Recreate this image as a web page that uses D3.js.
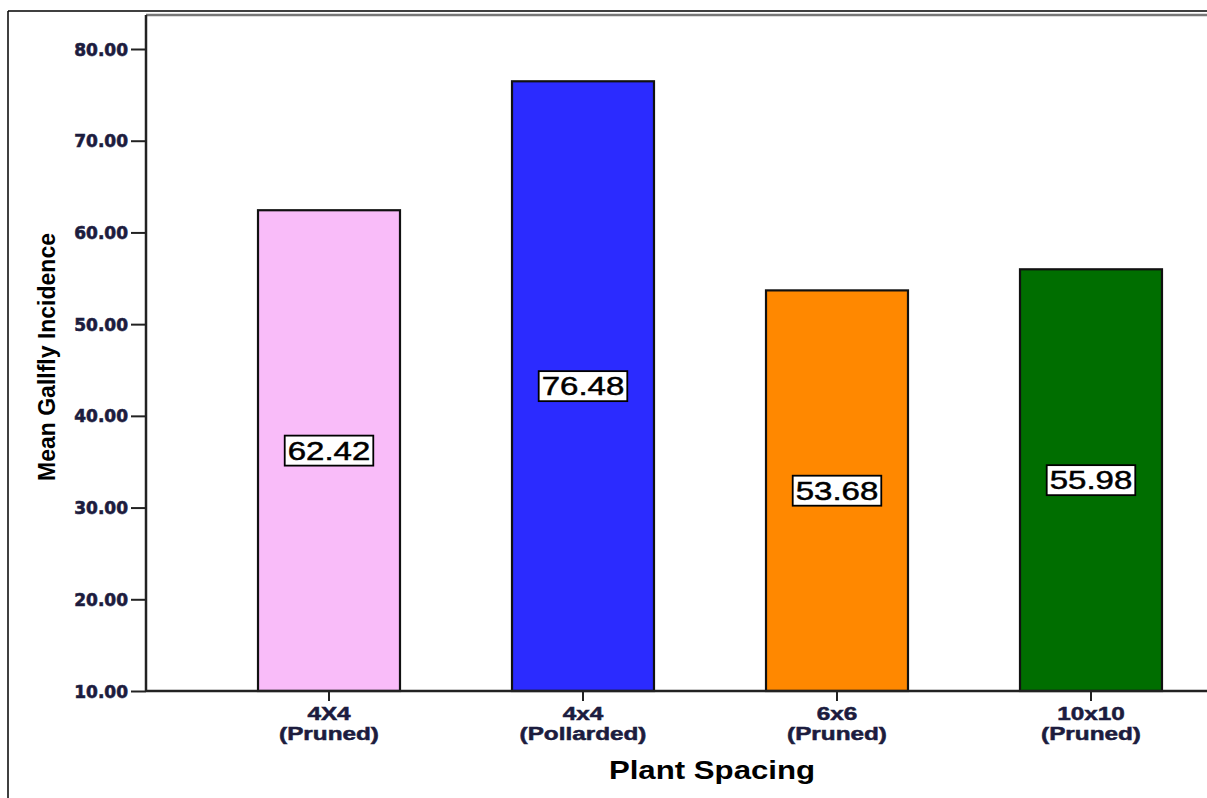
<!DOCTYPE html>
<html><head><meta charset="utf-8">
<script src="https://cdn.jsdelivr.net/npm/d3@7"></script>
<style>html,body{margin:0;padding:0;background:#fff;}svg{display:block;}</style>
</head><body>
<script>
const categoriesLine1 = ["4X4", "4x4", "6x6", "10x10"];
const categoriesLine2 = ["(Pruned)", "(Pollarded)", "(Pruned)", "(Pruned)"];
const values = [62.42, 76.48, 53.68, 55.98];
const barColors = ["#f9bcf9", "#2b2bff", "#ff8800", "#006e00"];
const yTicks = [10, 20, 30, 40, 50, 60, 70, 80];
const yTitle = "Mean Gallfly Incidence";
const xTitle = "Plant Spacing";

const W = 1207, H = 798;
const svg = d3.select("body").append("svg").attr("width", W).attr("height", H);

const x = d3.scaleBand().domain(d3.range(values.length)).range([146, 1274]).paddingInner(0.441).paddingOuter(0.441);
const y = d3.scaleLinear().domain([10, 80]).range([691, 49]);

// outer frame
svg.append("line").attr("x1", 8).attr("x2", 8).attr("y1", 11).attr("y2", H).attr("stroke", "#000").attr("stroke-width", 1.5);
svg.append("line").attr("x1", 8).attr("x2", W).attr("y1", 11).attr("y2", 11).attr("stroke", "#000").attr("stroke-width", 1.5);
// plot top frame
svg.append("line").attr("x1", 146).attr("x2", W).attr("y1", 15).attr("y2", 15).attr("stroke", "#777").attr("stroke-width", 2.5);

// bars
svg.selectAll("rect.bar").data(values).join("rect").attr("class", "bar")
  .attr("x", (d, i) => x(i)).attr("width", x.bandwidth())
  .attr("y", d => y(d)).attr("height", d => y(10) - y(d))
  .attr("fill", (d, i) => barColors[i]).attr("stroke", "#111").attr("stroke-width", 2.2);

// y axis
const yAxis = d3.axisLeft(y).tickValues(yTicks).tickFormat(d3.format(".2f")).tickSize(15).tickPadding(3);
const yg = svg.append("g").attr("transform", "translate(146,0)").call(yAxis);
yg.select(".domain").attr("d", "M0,15V691").attr("stroke", "#222").attr("stroke-width", 2.5);
yg.selectAll(".tick line").attr("stroke", "#222").attr("stroke-width", 2);
yg.selectAll(".tick text").attr("fill", "#1c1c3e").attr("stroke", "#1c1c3e").attr("stroke-width", 0.6)
  .attr("font-family", "DejaVu Sans").attr("font-weight", "bold").attr("font-size", 17).attr("dy", "0.36em");

// x axis
const xAxis = d3.axisBottom(x).tickSize(10).tickFormat("");
const xg = svg.append("g").attr("transform", "translate(0,691)").call(xAxis);
xg.select(".domain").attr("d", "M146,0H" + W).attr("stroke", "#222").attr("stroke-width", 2.5);
xg.selectAll(".tick line").attr("stroke", "#222").attr("stroke-width", 2);

function stretchedText(g, tx, ty, sx, txt) {
  return g.append("text").attr("transform", `translate(${tx},${ty}) scale(${sx},1)`).attr("text-anchor", "middle").text(txt);
}

const catG = svg.append("g").attr("fill", "#1c1c3e").attr("stroke", "#1c1c3e").attr("stroke-width", 0.5)
  .attr("font-family", "Liberation Sans").attr("font-weight", "bold").attr("font-size", 18);
values.forEach((d, i) => {
  const cx = x(i) + x.bandwidth() / 2;
  stretchedText(catG, cx, 720, 1.35, categoriesLine1[i]);
  stretchedText(catG, cx, 740, 1.35, categoriesLine2[i]);
});

// value labels
values.forEach((d, i) => {
  const cx = x(i) + x.bandwidth() / 2;
  const cy = (y(d) + y(10)) / 2;
  const g = svg.append("g");
  const t = g.append("text").attr("transform", `translate(${cx},${cy + 9}) scale(1.32,1)`)
    .attr("text-anchor", "middle").attr("font-family", "Liberation Sans").attr("font-size", 25)
    .attr("fill", "#000").attr("stroke", "#000").attr("stroke-width", 0.5)
    .text(d.toFixed(2));
  const w = t.node().getComputedTextLength() * 1.32;
  g.insert("rect", "text").attr("x", cx - w / 2 - 3).attr("y", cy - 15).attr("width", w + 6).attr("height", 30)
    .attr("fill", "#fff").attr("stroke", "#000").attr("stroke-width", 1.8);
});

// titles
svg.append("text").attr("transform", "translate(55,357) rotate(-90)").attr("text-anchor", "middle")
  .attr("font-family", "Liberation Sans").attr("font-weight", "bold").attr("font-size", 23).attr("fill", "#000").text(yTitle);
svg.append("text").attr("transform", "translate(712,779) scale(1.2,1)").attr("text-anchor", "middle")
  .attr("font-family", "Liberation Sans").attr("font-weight", "bold").attr("font-size", 26).attr("fill", "#000").text(xTitle);
</script>
</body></html>
